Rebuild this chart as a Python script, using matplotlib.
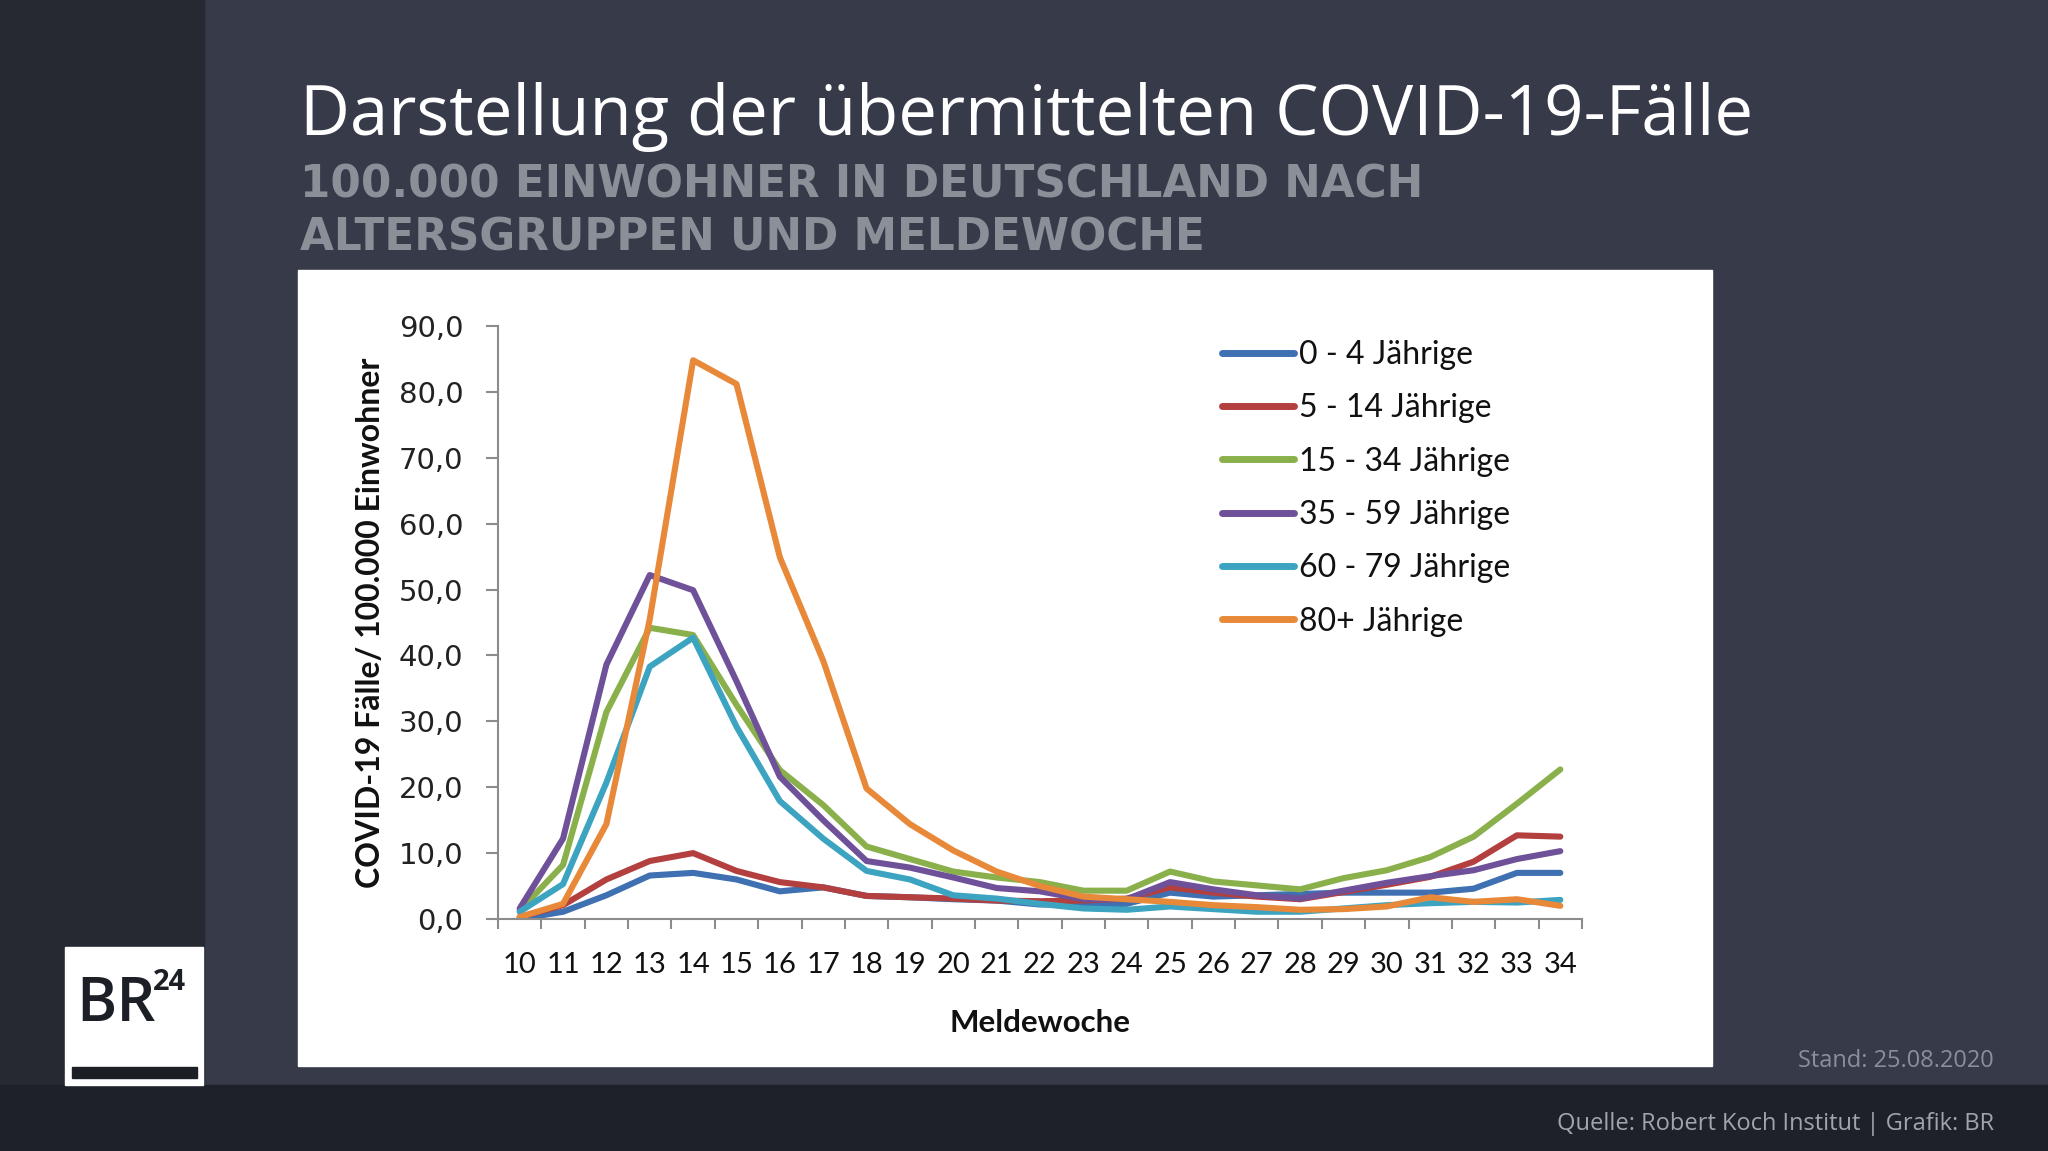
import matplotlib
matplotlib.use("Agg")
import matplotlib.pyplot as plt
from matplotlib.patches import Rectangle

# data
weeks = list(range(10, 35))
age_groups = ["0 - 4 Jährige", "5 - 14 Jährige", "15 - 34 Jährige",
              "35 - 59 Jährige", "60 - 79 Jährige", "80+ Jährige"]
cases_0_4 = [0.0, 1.1, 3.6, 6.6, 7.0, 6.0, 4.2, 4.8, 3.5, 3.3, 3.0, 2.8, 2.2,
             2.2, 2.3, 4.0, 3.4, 3.6, 3.8, 4.0, 4.0, 4.0, 4.6, 7.0, 7.0]
cases_5_14 = [0.3, 2.1, 6.0, 8.8, 10.0, 7.3, 5.6, 4.8, 3.5, 3.3, 3.1, 2.8, 2.7,
              2.8, 3.1, 4.8, 4.0, 3.4, 3.0, 4.1, 5.2, 6.4, 8.7, 12.7, 12.5]
cases_15_34 = [1.3, 8.2, 31.4, 44.2, 43.1, 32.5, 22.6, 17.3, 11.0, 9.1, 7.2, 6.3, 5.6,
               4.3, 4.3, 7.2, 5.7, 5.1, 4.5, 6.2, 7.4, 9.4, 12.5, 17.5, 22.7]
cases_35_59 = [1.6, 12.2, 38.6, 52.2, 49.9, 36.1, 21.6, 15.0, 8.8, 7.8, 6.3, 4.7, 4.2,
               3.0, 3.0, 5.6, 4.5, 3.6, 3.1, 4.3, 5.5, 6.5, 7.4, 9.1, 10.3]
cases_60_79 = [1.1, 5.3, 20.7, 38.3, 42.7, 29.2, 17.9, 12.2, 7.3, 6.0, 3.6, 3.1, 2.3,
               1.6, 1.4, 1.9, 1.5, 1.1, 1.1, 1.6, 2.1, 2.4, 2.6, 2.5, 2.9]
cases_80 = [0.3, 2.3, 14.4, 45.5, 84.8, 81.2, 54.9, 39.2, 19.8, 14.4, 10.4, 7.2, 5.0,
            3.4, 3.0, 2.6, 2.1, 1.8, 1.4, 1.5, 1.9, 3.3, 2.6, 3.0, 2.0]
series = [cases_0_4, cases_5_14, cases_15_34, cases_35_59, cases_60_79, cases_80]
yticks = [0, 10, 20, 30, 40, 50, 60, 70, 80, 90]

colors = ["#3e70b2", "#b3403e", "#8ab04c", "#6f5199", "#3ca4c1", "#e8893a"]

W, H = 2048, 1151


def fx(x):
  return x / W


def fy(y):
  return 1 - y / H


fig = plt.figure(figsize=(W / 100, H / 100), dpi=100)
fig.patch.set_facecolor("#363a49")

# background blocks
fig.patches.append(Rectangle((0, 0), fx(204), 1, transform=fig.transFigure,
                             color="#262932", zorder=0))
fig.patches.append(Rectangle((0, 0), 1, fy(1085), transform=fig.transFigure,
                             color="#1f212a", zorder=0))
# white chart panel
fig.patches.append(Rectangle((fx(298), fy(1066)), fx(1712) - fx(298), fy(270) - fy(1066),
                             transform=fig.transFigure, color="white", zorder=1))
# logo box
fig.patches.append(Rectangle((fx(65), fy(1085)), fx(203) - fx(65), fy(947) - fy(1085),
                             transform=fig.transFigure, color="white", zorder=1))
fig.patches.append(Rectangle((fx(72), fy(1078)), fx(197) - fx(72), fy(1067) - fy(1078),
                             transform=fig.transFigure, color="#1d1f27", zorder=2))
fig.text(fx(76), fy(1021), "BR", fontsize=44, family="Open Sans", weight="semibold",
         color="#1d1f27", va="baseline", ha="left", zorder=3)
fig.text(fx(153), fy(990), "24", fontsize=21, family="Open Sans", weight="bold",
         color="#1d1f27", va="baseline", ha="left", zorder=3)

# titles
fig.text(fx(300), fy(135), "Darstellung der übermittelten COVID-19-Fälle", fontsize=49.6,
         family="Open Sans", color="white", va="baseline", ha="left")
fig.text(fx(300), fy(197), "100.000 EINWOHNER IN DEUTSCHLAND NACH", fontsize=31.5,
         family="DejaVu Sans", weight="bold", color="#8b8f98", va="baseline", ha="left")
fig.text(fx(300), fy(250), "ALTERSGRUPPEN UND MELDEWOCHE", fontsize=31.5,
         family="DejaVu Sans", weight="bold", color="#8b8f98", va="baseline", ha="left")

fig.text(fx(1994), fy(1067), "Stand: 25.08.2020", fontsize=17, family="Open Sans",
         color="#8a8f99", va="baseline", ha="right")
fig.text(fx(1994), fy(1130), "Quelle: Robert Koch Institut | Grafik: BR", fontsize=17,
         family="Open Sans", color="#a0a4ac", va="baseline", ha="right")

# chart
ax = fig.add_axes([fx(498), fy(919), fx(1582) - fx(498), fy(326) - fy(919)])
ax.set_facecolor("none")
ax.set_zorder(2)

for vals, lab, c in zip(series, age_groups, colors):
  ax.plot(weeks, vals, color=c, lw=4.4, label=lab, solid_joinstyle="round",
          solid_capstyle="round")

ax.set_xlim(weeks[0] - 0.5, weeks[-1] + 0.5)
ax.set_ylim(0, 90)
for side in ["top", "right"]:
  ax.spines[side].set_visible(False)
for side in ["left", "bottom"]:
  ax.spines[side].set_color("#8c8c8c")
  ax.spines[side].set_linewidth(1.5)

ax.set_yticks(yticks)
ax.set_yticklabels([f"{v:.1f}".replace(".", ",") for v in yticks],
                   family="DejaVu Sans", fontsize=21, color="#222222")
ax.tick_params(axis="y", direction="out", length=9, width=1.5, color="#8c8c8c", pad=16)

ax.set_xticks([w - 0.5 for w in weeks] + [weeks[-1] + 0.5])
ax.set_xticklabels([])
ax.tick_params(axis="x", which="major", direction="out", length=7.5, width=1.5,
               color="#8c8c8c")
ax.set_xticks(weeks, minor=True)
ax.set_xticklabels([str(w) for w in weeks], minor=True, family="Lato", fontsize=21,
                   color="#111111")
ax.tick_params(axis="x", which="minor", length=0, pad=24)

ax.set_xlabel("Meldewoche", family="Lato", weight="bold", fontsize=22.5, color="#111111",
              labelpad=22)
ax.set_ylabel("COVID-19 Fälle/ 100.000 Einwohner", family="Lato", weight="bold",
              fontsize=23, color="#111111", labelpad=10)

leg = ax.legend(loc="upper left", bbox_to_anchor=(fx(1222), fy(340)),
                bbox_transform=fig.transFigure, frameon=False, borderpad=0,
                borderaxespad=0, handlelength=2.25, handletextpad=0.15,
                labelspacing=0.73, prop={"family": "Lato", "size": 23})
for line in leg.get_lines():
  line.set_linewidth(5)
for t in leg.get_texts():
  t.set_color("#111111")

fig.savefig("out.png", dpi=100, facecolor=fig.get_facecolor())
